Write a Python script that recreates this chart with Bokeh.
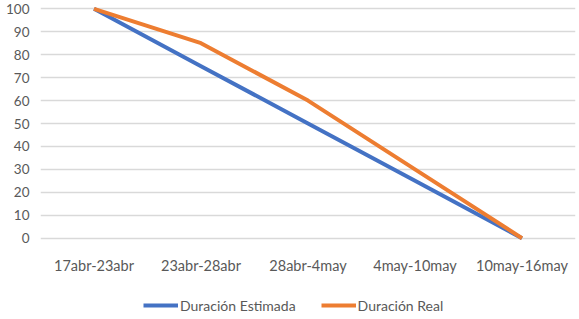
from bokeh.plotting import figure
from bokeh.layouts import column
from bokeh.models import Legend, LegendItem, Range1d, FactorRange, SingleIntervalTicker
from bokeh.embed import file_html
from bokeh.resources import INLINE

categories = ["17abr-23abr", "23abr-28abr", "28abr-4may", "4may-10may", "10may-16may"]
estimada = [100, 75, 50, 25, 0]
real = [100, 85, 60, 30, 0]
series_names = ["Duración Estimada", "Duración Real"]

FONT = "Lato"
GRAY = "#595959"
BLUE = "#4472C4"
ORANGE = "#ED7D31"

p = figure(width=579, height=284, x_range=FactorRange(*categories),
           y_range=Range1d(-1, 101), output_backend="svg", toolbar_location=None,
           min_border_left=40, min_border_right=4, min_border_top=6, min_border_bottom=44)
p.outline_line_color = None
p.background_fill_color = "white"
p.border_fill_color = "white"

p.line(categories, estimada, line_color=BLUE, line_width=4)
p.line(categories, real, line_color=ORANGE, line_width=4)

p.yaxis.ticker = SingleIntervalTicker(interval=10)
p.yaxis.axis_line_color = None
p.yaxis.major_tick_line_color = None
p.yaxis.major_tick_out = 0
p.yaxis.minor_tick_line_color = None
p.yaxis.minor_tick_out = 0
p.yaxis.major_label_text_font = FONT
p.yaxis.major_label_text_font_size = "13.5px"
p.yaxis.major_label_text_color = GRAY
p.yaxis.major_label_standoff = 11

p.xaxis.axis_line_color = None
p.xaxis.major_tick_line_color = None
p.xaxis.major_tick_out = 0
p.xaxis.major_label_text_font = FONT
p.xaxis.major_label_text_font_size = "14.5px"
p.xaxis.major_label_text_color = GRAY
p.xaxis.major_label_standoff = 16

p.xgrid.grid_line_color = None
p.ygrid.grid_line_color = "#d9d9d9"
p.ygrid.grid_line_width = 1.5

# Legend strip: same series drawn outside its visible y-range, only the legend shows
lg = figure(width=579, height=35, x_range=FactorRange(*categories),
            y_range=Range1d(1000, 1100), output_backend="svg", toolbar_location=None,
            x_axis_location=None, y_axis_location=None,
            min_border_left=0, min_border_right=0, min_border_top=0, min_border_bottom=0)
lg.outline_line_color = None
lg.grid.grid_line_color = None
l1 = lg.line(categories, estimada, line_color=BLUE, line_width=4)
l2 = lg.line(categories, real, line_color=ORANGE, line_width=4)

legend = Legend(items=[LegendItem(label=series_names[0], renderers=[l1]),
                       LegendItem(label=series_names[1], renderers=[l2])],
                orientation="horizontal", location=(103, 4),
                label_text_font=FONT, label_text_font_size="14px", label_text_color=GRAY,
                glyph_width=35, label_standoff=2, spacing=25, border_line_color=None,
                background_fill_alpha=0, margin=0, padding=2)
lg.add_layout(legend, "center")

open("out.html", "w").write(file_html(column(p, lg, spacing=0), INLINE))
